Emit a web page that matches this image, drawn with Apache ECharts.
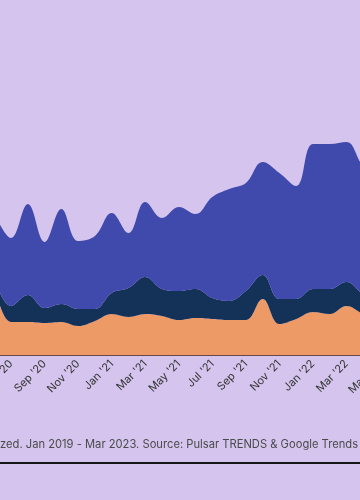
<!DOCTYPE html>
<html>
<head>
<meta charset="utf-8">
<script src="https://cdn.jsdelivr.net/npm/echarts@6/dist/echarts.min.js"></script>
<style>
  html, body { margin: 0; padding: 0; background: #d5c5ee; overflow: hidden; }
  #wrap { position: relative; width: 360px; height: 500px; overflow: hidden; }
  #chart { position: absolute; left: -20px; top: 0; width: 420px; height: 500px; }
</style>
</head>
<body>
<div id="wrap"><div id="chart"></div></div>
<script>
const months = ["Jun '20","Jul '20","Aug '20","Sep '20","Oct '20","Nov '20","Dec '20",
  "Jan '21","Feb '21","Mar '21","Apr '21","May '21","Jun '21","Jul '21","Aug '21","Sep '21","Oct '21","Nov '21","Dec '21",
  "Jan '22","Feb '22","Mar '22","Apr '22","May '22"];
const seriesOrange = [28.8,13.2,13.2,12.8,13.2,11.6,13.6,16.4,15.2,16.4,15.6,14,14.8,14.4,14,14,22.4,12.4,14.4,17.2,16.4,19.6,16.4,14.4];
const seriesNavy   = [2,6.4,10.8,6,7.2,6.8,4.8,8.4,11.6,14.8,10.8,11.6,11.6,8.4,7.6,11.6,9.6,10,8,9.2,10,9.6,8,8];
const seriesBlue   = [26,27.2,36.4,26.4,38,27.2,29.2,32,22,30,28.4,33.6,30,40.4,44.8,43.2,45.2,50.4,45.2,58,58,56,51.2,49.2];
const footText = "zed. Jan 2019 - Mar 2023. Source: Pulsar TRENDS & Google Trends";

const chart = echarts.init(document.getElementById('chart'), null, { renderer: 'canvas' });
const mk = (name, data, color) => ({
  name, type: 'line', stack: 'total', data, smooth: 0.4,
  showSymbol: false, symbol: 'none',
  lineStyle: { width: 0 }, areaStyle: { color: color, opacity: 1 },
  itemStyle: { color: color }
});
chart.setOption({
  backgroundColor: '#d5c5ee',
  animation: false,
  textStyle: { fontFamily: 'Inter' },
  grid: { left: 11, right: 20, top: 105, bottom: 145 },
  xAxis: {
    type: 'category', data: months, boundaryGap: false,
    axisLine: { lineStyle: { color: '#654848', width: 2 } },
    axisTick: { show: false },
    axisLabel: {
      interval: (i) => i % 2 === 1,
      rotate: 45, color: '#333', fontSize: 11, margin: 7, fontFamily: 'Inter'
    },
    splitLine: { show: false }
  },
  yAxis: { type: 'value', min: 0, max: 100, show: false, splitLine: { show: false } },
  series: [
    mk('Orange', seriesOrange, '#ed9a67'),
    mk('Navy', seriesNavy, '#143258'),
    mk('Blue', seriesBlue, '#3f4aac')
  ],
  graphic: [
    { type: 'text', left: 20, top: 439, style: { text: footText, fill: '#4a4a4a', font: '11.2px Inter' } },
    { type: 'line', shape: { x1: 0, y1: 463, x2: 420, y2: 463 }, style: { stroke: '#151515', lineWidth: 2 } }
  ]
});
</script>
</body>
</html>
